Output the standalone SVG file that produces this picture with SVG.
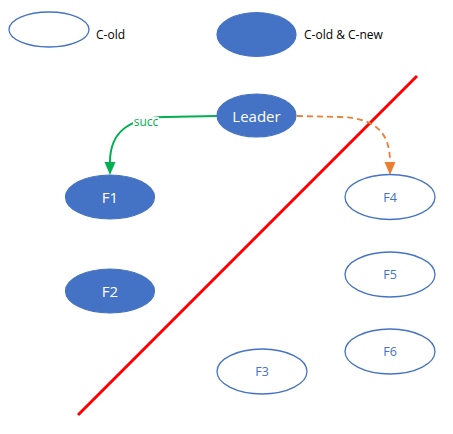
<svg xmlns="http://www.w3.org/2000/svg" width="453" height="434" viewBox="0 0 453 434">
<style>
.fill{fill:#4472C4;stroke:#4472C4;stroke-width:1.2}
.open{fill:#ffffff;stroke:#4472C4;stroke-width:1.3}
text{font-family:"Open Sans","Liberation Sans",sans-serif}
.wt{fill:#ffffff;font-size:15px;text-anchor:middle}
.bt{fill:#4472C4;font-size:12.5px;text-anchor:middle}
.lg{fill:#000000;font-size:12px}
.head{stroke:none}
</style>
<rect width="453" height="434" fill="#ffffff"/>
<g id="legend-old">
<ellipse class="open" cx="49" cy="29.5" rx="40" ry="17.5"/>
<text class="lg" x="96" y="39">C-old</text>
</g>
<g id="legend-new">
<ellipse class="fill" cx="256.5" cy="34.5" rx="39.5" ry="22"/>
<text class="lg" x="304" y="39">C-old &amp; C-new</text>
</g>
<g id="partition">
<line x1="417" y1="76" x2="78" y2="415" stroke="#FF0000" stroke-width="3"/>
</g>
<g id="connectors">
<path d="M217,116 L165,117 C125,118 110,135 110,162" fill="none" stroke="#00B050" stroke-width="2"/>
<path class="head" d="M104.5,162 L115.5,162 L110,175 Z" fill="#00B050"/>
<rect x="133" y="117" width="26" height="10" fill="#ffffff"/>
<text x="146" y="126" font-size="12" fill="#00B050" text-anchor="middle">succ</text>
<path d="M297,116 L340,117 C378,118 390,135 390,162" fill="none" stroke="#ED7D31" stroke-width="1.8" stroke-dasharray="6,4"/>
<path class="head" d="M384.5,162 L395.5,162 L390,175 Z" fill="#ED7D31"/>
</g>
<g id="leader">
<ellipse class="fill" cx="256.5" cy="115.5" rx="39.5" ry="21.5"/>
<text class="wt" x="256.5" y="121.5" font-size="16">Leader</text>
</g>
<g id="f1">
<ellipse class="fill" cx="110" cy="197" rx="44.5" ry="22"/>
<text class="wt" x="110" y="202.5">F1</text>
</g>
<g id="f2">
<ellipse class="fill" cx="110" cy="291" rx="44.5" ry="22"/>
<text class="wt" x="110" y="296.5">F2</text>
</g>
<g id="f3">
<ellipse class="open" cx="262" cy="371.5" rx="45" ry="22.5"/>
<text class="bt" x="262" y="376">F3</text>
</g>
<g id="f4">
<ellipse class="open" cx="390" cy="197" rx="45" ry="22.5"/>
<text class="bt" x="390" y="201.5">F4</text>
</g>
<g id="f5">
<ellipse class="open" cx="390" cy="274.5" rx="45" ry="22.5"/>
<text class="bt" x="390" y="279">F5</text>
</g>
<g id="f6">
<ellipse class="open" cx="390" cy="351.5" rx="45" ry="22.5"/>
<text class="bt" x="390" y="356">F6</text>
</g>
</svg>
